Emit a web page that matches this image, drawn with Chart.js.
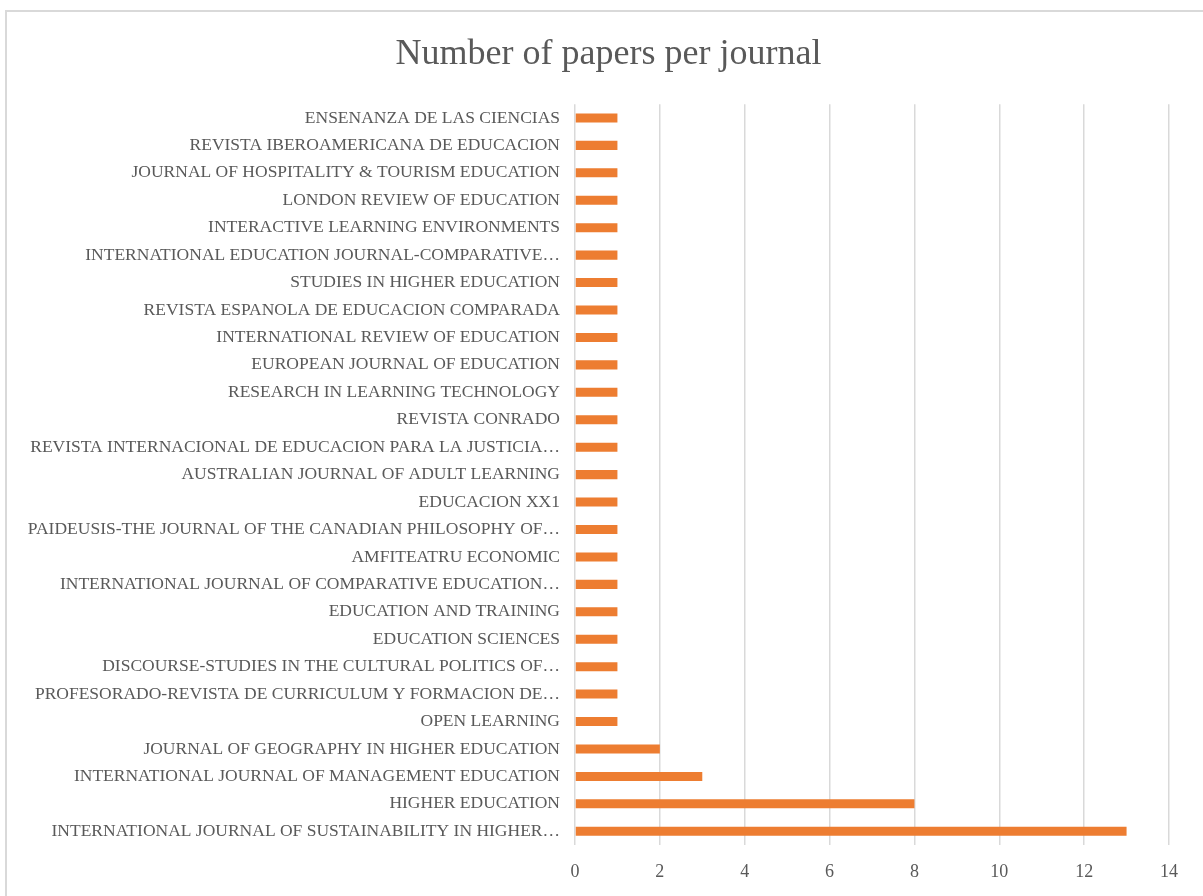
<!DOCTYPE html>
<html>
<head>
<meta charset="utf-8">
<script src="https://cdn.jsdelivr.net/npm/chart.js@4"></script>
<style>
  html, body { margin: 0; padding: 0; background: #fff; }
  body { width: 1203px; height: 896px; position: relative; overflow: hidden; }
  #frame { position: absolute; left: 5px; top: 10px; width: 1210px; height: 900px; border: 2px solid #d9d9d9; box-sizing: border-box; }
  #wrap { position: absolute; left: 0; top: 0; width: 1203px; height: 896px; }
</style>
</head>
<body>
<div id="frame"></div>
<div id="wrap"><canvas id="barChart"></canvas></div>
<script>
// journals, top to bottom as in the picture
const journals = [
    'ENSENANZA DE LAS CIENCIAS',
    'REVISTA IBEROAMERICANA DE EDUCACION',
    'JOURNAL OF HOSPITALITY & TOURISM EDUCATION',
    'LONDON REVIEW OF EDUCATION',
    'INTERACTIVE LEARNING ENVIRONMENTS',
    'INTERNATIONAL EDUCATION JOURNAL-COMPARATIVE…',
    'STUDIES IN HIGHER EDUCATION',
    'REVISTA ESPANOLA DE EDUCACION COMPARADA',
    'INTERNATIONAL REVIEW OF EDUCATION',
    'EUROPEAN JOURNAL OF EDUCATION',
    'RESEARCH IN LEARNING TECHNOLOGY',
    'REVISTA CONRADO',
    'REVISTA INTERNACIONAL DE EDUCACION PARA LA JUSTICIA…',
    'AUSTRALIAN JOURNAL OF ADULT LEARNING',
    'EDUCACION XX1',
    'PAIDEUSIS-THE JOURNAL OF THE CANADIAN PHILOSOPHY OF…',
    'AMFITEATRU ECONOMIC',
    'INTERNATIONAL JOURNAL OF COMPARATIVE EDUCATION…',
    'EDUCATION AND TRAINING',
    'EDUCATION SCIENCES',
    'DISCOURSE-STUDIES IN THE CULTURAL POLITICS OF…',
    'PROFESORADO-REVISTA DE CURRICULUM Y FORMACION DE…',
    'OPEN LEARNING',
    'JOURNAL OF GEOGRAPHY IN HIGHER EDUCATION',
    'INTERNATIONAL JOURNAL OF MANAGEMENT EDUCATION',
    'HIGHER EDUCATION',
    'INTERNATIONAL JOURNAL OF SUSTAINABILITY IN HIGHER…'
];
const papers = [1, 1, 1, 1, 1, 1, 1, 1, 1, 1, 1, 1, 1, 1, 1, 1, 1, 1, 1, 1, 1, 1, 1, 2, 3, 8, 13];
const xTicks = [0, 2, 4, 6, 8, 10, 12, 14];

const textColor = '#595959';
const gridColor = '#d9d9d9';
const serif = "'Liberation Serif', 'Times New Roman', serif";

// the title sits centred on the whole frame, not on the padded area
const shiftTitle = {
    id: 'shiftTitle',
    afterLayout(chart) {
        if (chart.titleBlock) chart.titleBlock.right += 48;
    }
};

const ctx = document.getElementById('barChart').getContext('2d');
new Chart(ctx, {
    type: 'bar',
    data: {
        labels: journals,
        datasets: [{
            data: papers,
            backgroundColor: '#ED7D31',
            barPercentage: 0.33,
            categoryPercentage: 1
        }]
    },
    options: {
        indexAxis: 'y',
        responsive: true,
        maintainAspectRatio: false,
        animation: false,
        devicePixelRatio: 1,
        layout: { padding: { top: 0, bottom: 0, left: 0, right: 34 } },
        plugins: {
            legend: { display: false },
            tooltip: { enabled: false },
            title: {
                display: true,
                text: 'Number of papers per journal',
                color: textColor,
                font: { family: serif, size: 36, weight: 'normal' },
                padding: { top: 32.5, bottom: 28.5 }
            }
        },
        scales: {
            x: {
                min: 0,
                max: 14,
                afterBuildTicks: s => { s.ticks = xTicks.map(v => ({ value: v })); },
                afterFit: s => { s.height = 51; },
                grid: { color: gridColor, lineWidth: 1.5, drawTicks: false },
                border: { display: false },
                ticks: { color: textColor, font: { family: serif, size: 18 }, padding: 16 }
            },
            y: {
                afterFit: s => { s.width = 575; },
                grid: { display: false, drawTicks: false },
                border: { display: false },
                ticks: { color: textColor, font: { family: serif, size: 17.5 }, padding: 15, autoSkip: false }
            }
        }
    },
    plugins: [shiftTitle]
});
</script>
</body>
</html>
